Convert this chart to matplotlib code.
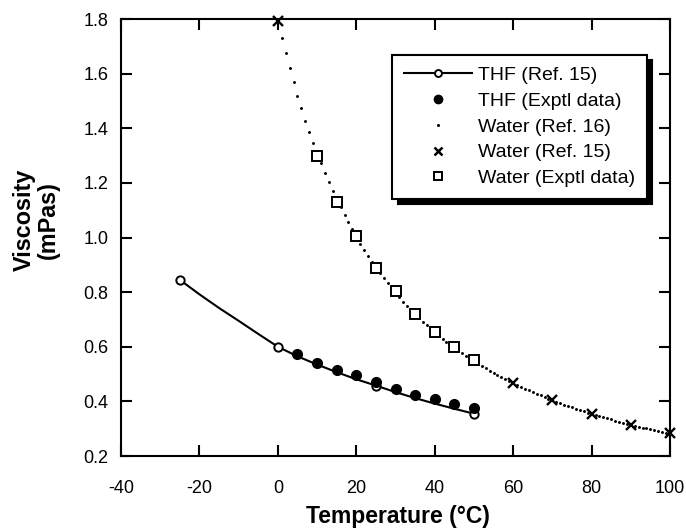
import matplotlib
matplotlib.use("Agg")
import matplotlib.pyplot as plt

plt.rcParams['font.family'] = ['Liberation Sans', 'DejaVu Sans']
plt.rcParams['axes.unicode_minus'] = False

# THF (Ref. 15): tabulated points and the smooth curve through them
thf_ref_t = [-25, 0, 25, 50]
thf_ref_v = [0.845, 0.600, 0.458, 0.355]
thf_curve_t = [-25, -20, -15, -10, -5, 0, 5, 10, 15, 20, 25, 30, 35, 40, 45, 50]
thf_curve_v = [0.845, 0.792, 0.742, 0.695, 0.647, 0.600, 0.565, 0.535, 0.507,
               0.481, 0.458, 0.434, 0.412, 0.392, 0.373, 0.355]

# THF experimental data
thf_exp_t = [5, 10, 15, 20, 25, 30, 35, 40, 45, 50]
thf_exp_v = [0.575, 0.542, 0.515, 0.495, 0.470, 0.447, 0.425, 0.410, 0.390, 0.375]

# Water (Ref. 16): table at 1 degree steps
water16_t = list(range(0, 101))
water16_v = [1.792, 1.731, 1.674, 1.620, 1.569, 1.519, 1.473, 1.428, 1.386, 1.346,
             1.308, 1.271, 1.236, 1.203, 1.171, 1.140, 1.111, 1.083, 1.056, 1.030,
             1.002, 0.978, 0.955, 0.933, 0.911, 0.890, 0.871, 0.851, 0.833, 0.815,
             0.798, 0.781, 0.765, 0.749, 0.734, 0.719, 0.705, 0.692, 0.678, 0.666,
             0.653, 0.641, 0.629, 0.618, 0.607, 0.596, 0.586, 0.576, 0.566, 0.557,
             0.547, 0.538, 0.529, 0.521, 0.512, 0.504, 0.496, 0.489, 0.481, 0.474,
             0.467, 0.460, 0.453, 0.447, 0.440, 0.434, 0.428, 0.422, 0.416, 0.410,
             0.404, 0.399, 0.394, 0.388, 0.383, 0.378, 0.373, 0.369, 0.364, 0.359,
             0.355, 0.351, 0.346, 0.342, 0.338, 0.334, 0.330, 0.326, 0.322, 0.319,
             0.315, 0.311, 0.308, 0.304, 0.301, 0.298, 0.295, 0.291, 0.288, 0.285,
             0.282]

# Water (Ref. 15)
water15_t = [0, 60, 70, 80, 90, 100]
water15_v = [1.792, 0.467, 0.404, 0.355, 0.315, 0.285]

# Water experimental data
water_exp_t = [10, 15, 20, 25, 30, 35, 40, 45, 50]
water_exp_v = [1.300, 1.130, 1.005, 0.890, 0.805, 0.720, 0.655, 0.600, 0.550]

fig = plt.figure(figsize=(6.86, 5.31), dpi=100)
ax = fig.add_axes([0.1764, 0.1412, 0.8003, 0.823])

# curve for THF ref, with open circle markers on the tabulated points
ax.plot(thf_curve_t, thf_curve_v, '-', color='black', lw=1.5, zorder=2)
ax.plot(thf_ref_t, thf_ref_v, 'o', mfc='white', mec='black', ms=6, mew=1.4, zorder=3)
ax.plot(thf_exp_t, thf_exp_v, 'o', color='black', ms=7, ls='none', zorder=4)
ax.plot(water16_t, water16_v, 'o', color='black', ms=1.1, ls='none', zorder=2,
        clip_on=False)
ax.plot(water15_t, water15_v, 'x', color='black', ms=6.5, mew=1.7, ls='none', zorder=4,
        clip_on=False)
ax.plot(water_exp_t, water_exp_v, 's', mfc='white', mec='black', ms=6.5, mew=1.4,
        ls='none', zorder=4)

# legend handles (markers a bit smaller than in the plot)
h1, = ax.plot([], [], '-o', color='black', mfc='white', mec='black', ms=5, mew=1.4, lw=1.5)
h2, = ax.plot([], [], 'o', color='black', ms=6, ls='none')
h3, = ax.plot([], [], 'o', color='black', ms=1.2, ls='none')
h4, = ax.plot([], [], 'x', color='black', ms=5.5, mew=1.8, ls='none')
h5, = ax.plot([], [], 's', mfc='white', mec='black', ms=5.5, mew=1.4, ls='none')
leg = ax.legend([h1, h2, h3, h4, h5],
                ['THF (Ref. 15)', 'THF (Exptl data)', 'Water (Ref. 16)',
                 'Water (Ref. 15)', 'Water (Exptl data)'],
                loc='upper left', bbox_to_anchor=(0.494, 0.918), borderaxespad=0,
                fontsize=14, frameon=True, fancybox=False,
                shadow={'color': 'black', 'alpha': 1.0, 'ox': 4, 'oy': -4},
                handlelength=3.5, handletextpad=0.3, labelspacing=0.42,
                borderpad=0.6, framealpha=1.0, edgecolor='black')
leg.get_frame().set_linewidth(1.5)

ax.set_xlim(-40, 100)
ax.set_ylim(0.2, 1.8)
ax.set_xticks([-40, -20, 0, 20, 40, 60, 80, 100])
ax.set_yticks([0.2, 0.4, 0.6, 0.8, 1.0, 1.2, 1.4, 1.6, 1.8])
ax.set_yticklabels(['0.2', '0.4', '0.6', '0.8', '1.0', '1.2', '1.4', '1.6', '1.8'])
ax.tick_params(direction='in', length=8, width=1.5, top=True, right=True,
               labelsize=13)
ax.tick_params(axis='x', pad=17)
ax.tick_params(axis='y', pad=9)
for s in ax.spines.values():
    s.set_linewidth(1.5)

ax.set_xlabel('Temperature (°C)', fontsize=16.5, fontweight='bold')
ax.set_ylabel('Viscosity\n(mPas)', fontsize=16.8, fontweight='bold', linespacing=1.05)
ax.xaxis.set_label_coords(0.505, -0.113)
ax.yaxis.set_label_coords(-0.112, 0.54)

fig.savefig('out.png', dpi=100)
